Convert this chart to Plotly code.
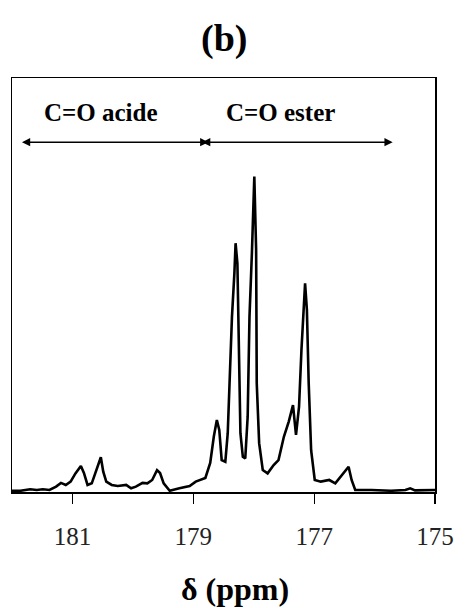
import plotly.graph_objects as go

# Chemical shift (ppm) and intensity (arbitrary units)
ppm = [182.00, 181.86, 181.70, 181.59, 181.49, 181.38, 181.27, 181.19, 181.11, 181.03,
       180.95, 180.86, 180.81, 180.75, 180.68, 180.60, 180.53, 180.49, 180.44, 180.35,
       180.25, 180.11, 180.03, 179.95, 179.84, 179.76, 179.68, 179.60, 179.55, 179.49,
       179.39, 179.23, 179.06, 178.96, 178.80, 178.72, 178.66, 178.61, 178.57, 178.53,
       178.47, 178.43, 178.39, 178.36, 178.32, 178.30, 178.27, 178.25, 178.22, 178.18,
       178.14, 178.10, 178.07, 178.03, 177.99, 177.96, 177.95, 177.91, 177.85, 177.77,
       177.67, 177.59, 177.50, 177.42, 177.35, 177.30, 177.25, 177.21, 177.15, 177.12,
       177.09, 177.05, 176.99, 176.89, 176.75, 176.65, 176.54, 176.43, 176.38, 176.32,
       176.05, 175.73, 175.49, 175.41, 175.33, 175.00]
intensity = [0.3, 0.3, 0.65, 0.5, 0.65, 0.5, 1.3, 2.2, 1.7, 2.5,
             4.5, 6.3, 4.6, 1.7, 2.1, 5.3, 8.4, 4.9, 2.5, 1.7,
             1.45, 1.7, 0.9, 1.3, 2.2, 2.1, 2.9, 5.3, 4.6, 2.1,
             0.3, 0.9, 1.45, 2.5, 3.4, 7.0, 13.4, 17.4, 15.0, 7.7,
             7.3, 14.2, 30.3, 42.3, 52.8, 60.1, 55.2, 34.3, 14.2, 8.5,
             8.1, 18.2, 42.3, 57.7, 76.2, 58.5, 26.3, 11.8, 5.3, 4.5,
             6.5, 7.7, 13.4, 17.0, 21.0, 13.8, 20.6, 34.3, 50.4, 44.0,
             26.3, 10.1, 2.9, 2.5, 2.9, 2.1, 4.1, 6.1, 2.9, 0.5,
             0.5, 0.3, 0.5, 0.9, 0.4, 0.5]

tick_vals = [181, 179, 177, 175]
tick_text = ["181", "179", "177", "175"]

region_labels = ["C=O acide", "C=O ester"]
region_label_ppm = [180.53, 177.55]
region_starts = [181.86, 178.88]
region_ends = [178.75, 175.70]

serif = "Liberation Serif, Times New Roman, serif"

fig = go.Figure()
fig.add_trace(go.Scatter(x=ppm, y=intensity, mode="lines",
                         line=dict(color="black", width=2.6),
                         showlegend=False, hoverinfo="skip"))

fig.update_layout(
    width=466, height=608,
    margin=dict(l=12, r=20, t=78, b=116),
    paper_bgcolor="white", plot_bgcolor="white",
    xaxis=dict(range=[182, 175], tickvals=tick_vals, ticktext=tick_text,
               ticks="outside", ticklen=10, tickwidth=1.2, tickcolor="black",
               showline=True, mirror=True, linecolor="black", linewidth=1.5,
               showgrid=False, zeroline=False, ticklabelstandoff=11,
               tickfont=dict(family=serif, size=25, color="#222")),
    yaxis=dict(range=[0, 100], showticklabels=False, ticks="",
               showline=True, mirror=True, linecolor="black", linewidth=1.5,
               showgrid=False, zeroline=False),
)

annotations = [
    dict(text="<b>(b)</b>", x=0.5, y=1.095, xref="paper", yref="paper",
         xanchor="center", yanchor="middle", showarrow=False,
         font=dict(family=serif, size=38, color="black")),
    dict(text="<b>δ (ppm)</b>", x=0.527, y=-0.234, xref="paper", yref="paper",
         xanchor="center", yanchor="middle", showarrow=False,
         font=dict(family=serif, size=32, color="black")),
]
for lab, lp in zip(region_labels, region_label_ppm):
    annotations.append(dict(text="<b>" + lab + "</b>", x=lp, y=91.6, xref="x", yref="y",
                            xanchor="center", yanchor="middle", showarrow=False,
                            font=dict(family=serif, size=25, color="black")))
for s, e in zip(region_starts, region_ends):
    annotations.append(dict(text="", x=e, y=84.5, ax=s, ay=84.5, xref="x", yref="y",
                            axref="x", ayref="y", showarrow=True,
                            arrowhead=2, startarrowhead=2, arrowside="end+start",
                            arrowsize=1.1, startarrowsize=1.1, arrowwidth=1.5,
                            arrowcolor="black", standoff=0, startstandoff=0))
fig.update_layout(annotations=annotations)

fig.write_html("out.html",
               config={"displayModeBar": False, "staticPlot": True},
               post_script="document.body.style.margin='0';document.body.style.overflow='hidden';")
